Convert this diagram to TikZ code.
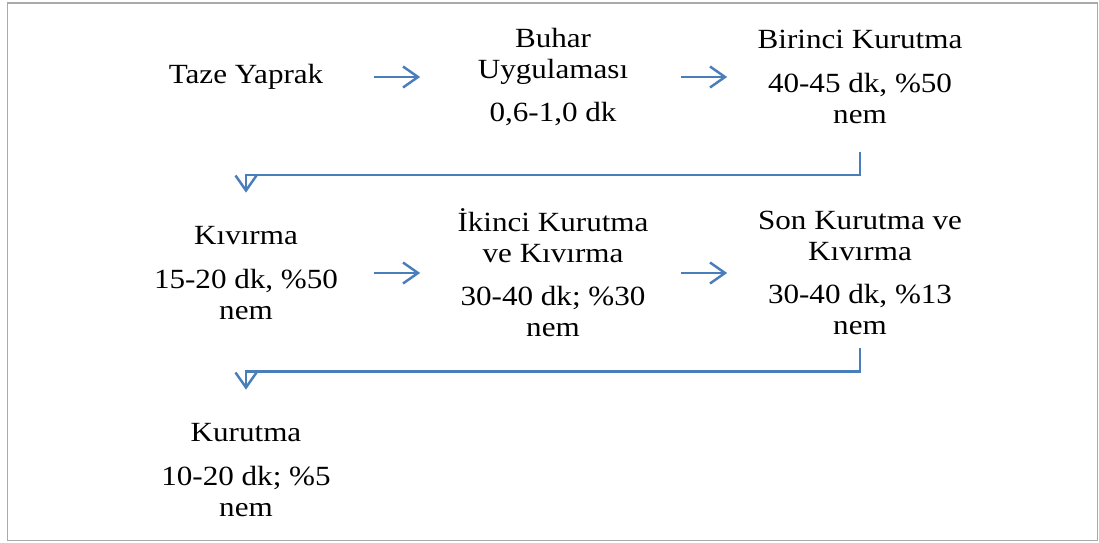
\documentclass[tikz,border=0pt]{standalone}
\usepackage{fontspec}
\setmainfont{Liberation Serif}[FakeStretch=1.12]
\usepackage{tikz}
\usetikzlibrary{arrows.meta, positioning, calc}
\definecolor{flowblue}{RGB}{74,126,187}
\definecolor{framegray}{RGB}{170,170,170}

\begin{document}
\begin{tikzpicture}[
    stage/.style={minimum width=5.1cm, minimum height=3cm, inner sep=0pt, align=center, font=\fontsize{15.8}{17.6}\selectfont},
    arrow/.style={-{Straight Barb[length=3mm, width=4.2mm]}, line width=1.4pt, draw=flowblue, shorten >=1mm}
]
    \useasboundingbox (0,0) rectangle (21.98,10.84);
    \draw[framegray, line width=0.9pt] (0.15,10.78) rectangle (21.95,0.03);

    % Stages
    \node[stage] (taze) at (4.92,9.30) {Taze Yaprak};
    \node[stage] (buhar) at (11.06,9.30) {Buhar\\Uygulaması\\[7pt]0,6-1,0 dk};
    \node[stage] (birinci) at (17.2,9.30) {Birinci Kurutma\\[7pt]40-45 dk, \%50\\nem};
    \node[stage] (kivirma) at (4.92,5.38) {Kıvırma\\[7pt]15-20 dk, \%50\\nem};
    \node[stage] (ikinci) at (11.06,5.38) {İkinci Kurutma\\ve Kıvırma\\[7pt]30-40 dk; \%30\\nem};
    \node[stage] (son) at (17.2,5.38) {Son Kurutma ve\\Kıvırma\\[7pt]30-40 dk, \%13\\nem};
    \node[stage] (kurutma) at (4.92,1.44) {Kurutma\\[7pt]10-20 dk; \%5\\nem};

    % Arrows
    \draw[arrow] (taze) -- (buhar);
    \draw[arrow] (buhar) -- (birinci);
    \draw[arrow] (birinci.south) |- ($(birinci.south)!0.5!(kivirma.north)$) -| (kivirma.north);
    \draw[arrow] (kivirma) -- (ikinci);
    \draw[arrow] (ikinci) -- (son);
    \draw[arrow] (son.south) |- ($(son.south)!0.5!(kurutma.north)$) -| (kurutma.north);
\end{tikzpicture}
\end{document}
